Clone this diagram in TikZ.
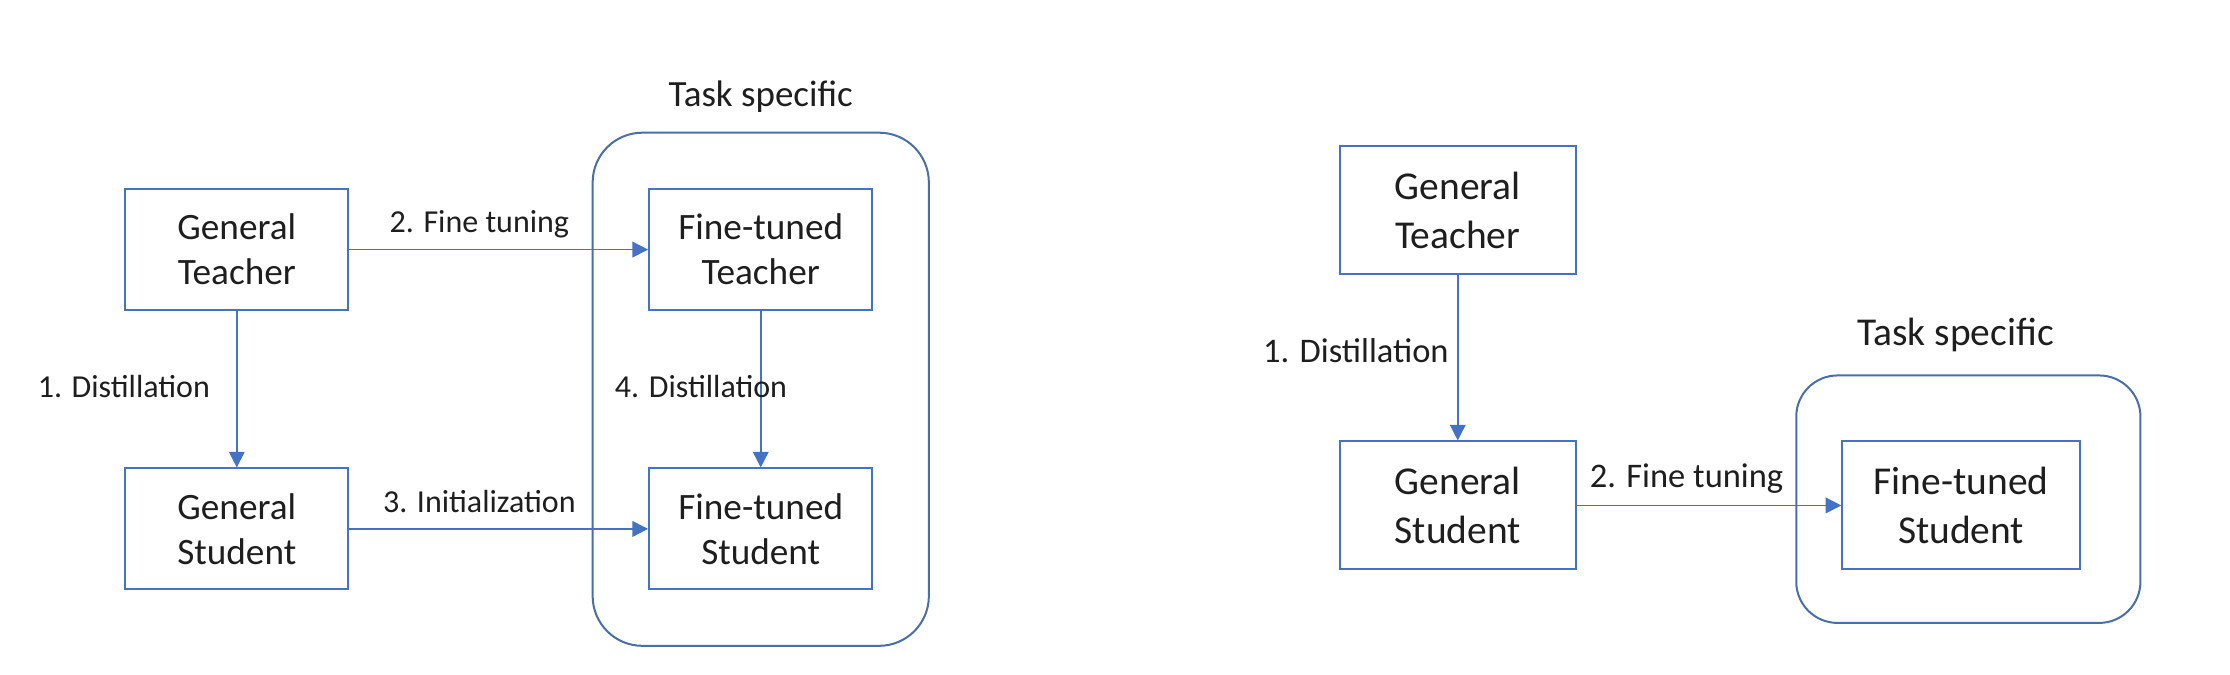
\documentclass[tikz,border=0pt]{standalone}
\usepackage{fontspec}
\setmainfont{Carlito}
\usepackage{tikz}
\usetikzlibrary{arrows.meta,positioning,fit}

\definecolor{boxblue}{HTML}{4472C4}
\definecolor{frameblue}{HTML}{4A6EA6}
\definecolor{inktext}{HTML}{1E1E1E}

\tikzset{
  model/.style={draw=boxblue, line width=0.8pt, align=center, text=inktext, inner sep=0pt,
    minimum width=3.14cm, minimum height=1.70cm, font=\fontsize{14.9}{18}\selectfont},
  bigmodel/.style={model, minimum width=3.32cm, minimum height=1.80cm,
    font=\fontsize{15.8}{19.3}\selectfont},
  taskbox/.style={draw=frameblue, line width=0.8pt, rounded corners=0.7cm},
  tasktitle/.style={text=inktext, font=\fontsize{14.8}{18}\selectfont},
  flow/.style={draw=boxblue, line width=0.6pt, -{Triangle[length=0.22cm,width=0.22cm]},
    text=inktext, font=\fontsize{12.8}{15}\selectfont, text height=0.33cm, text depth=0.11cm},
  bigflow/.style={flow, font=\fontsize{13.8}{16}\selectfont, text height=0.36cm, text depth=0.12cm}
}

\begin{document}
\begin{tikzpicture}
  \useasboundingbox (0,0) rectangle (31.36,-9.48);

  % left: distill, fine-tune teacher, then distill again
  \node[model] (gt) at (3.33,-3.51) {General\\Teacher};
  \node[model] (gs) [below = 2.2cm of gt] {General\\Student};
  \node[model] (ftt) [right = 4.2cm of gt] {Fine-tuned\\Teacher};
  \node[model] (fts) [below = 2.2cm of ftt] {Fine-tuned\\Student};
  \node[taskbox, fit=(ftt)(fts), inner sep=0.78cm] (task) {};
  \node[tasktitle] (tasklabel) [above = 0.15cm of task] {Task specific};

  \path
    (gt) edge [flow, left] node [xshift=-0.25cm] {1. Distillation} (gs)
    (gt) edge [flow, above, pos=0.435] node {2. Fine tuning} (ftt)
    (gs) edge [flow, above, pos=0.435] node {3. Initialization} (fts)
    (ftt) edge [flow] node [xshift=-0.84cm] {4. Distillation} (fts);

  % right: distill, then fine-tune student
  \node[bigmodel] (gt2) at (20.5,-2.96) {General\\Teacher};
  \node[bigmodel] (gs2) [below = 2.32cm of gt2] {General\\Student};
  \node[bigmodel, minimum width=3.34cm] (fts2) [right = 3.72cm of gs2] {Fine-tuned\\Student};
  \node[taskbox, rounded corners=0.58cm, minimum width=4.84cm, minimum height=3.48cm] (task2) at (27.68,-7.02) {};
  \node[tasktitle, font=\fontsize{15.8}{19}\selectfont] (tasklabel2) [above = 0.2cm of task2, xshift=-0.18cm] {Task specific};

  \path
    (gt2) edge [bigflow, left] node [yshift=0.06cm] {1. Distillation} (gs2)
    (gs2) edge [bigflow, above, pos=0.415] node {2. Fine tuning} (fts2);
\end{tikzpicture}
\end{document}
